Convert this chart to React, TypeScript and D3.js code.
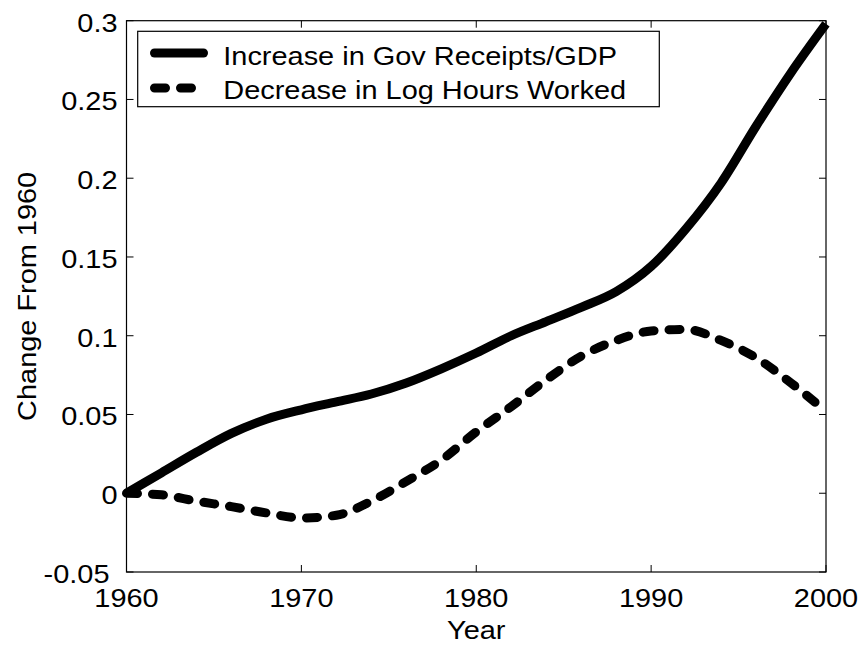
import React from "react";
import * as d3 from "d3";

const years = [1960, 1962, 1964, 1966, 1968, 1970, 1972, 1974, 1976, 1978, 1980, 1982, 1984, 1986, 1988, 1990, 1992, 1994, 1996, 1998, 2000];
const govReceipts = [0, 0.013, 0.026, 0.038, 0.047, 0.053, 0.058, 0.063, 0.07, 0.079, 0.089, 0.1, 0.109, 0.118, 0.128, 0.144, 0.168, 0.197, 0.233, 0.267, 0.298];
const logHours = [0, -0.001, -0.005, -0.0085, -0.0125, -0.0157, -0.014, -0.005, 0.0075, 0.021, 0.039, 0.055, 0.072, 0.087, 0.097, 0.103, 0.104, 0.097, 0.086, 0.07, 0.052];
const xTicks = [1960, 1970, 1980, 1990, 2000];
const yTicks = [-0.05, 0, 0.05, 0.1, 0.15, 0.2, 0.25, 0.3];
const seriesNames = ["Increase in Gov Receipts/GDP", "Decrease in Log Hours Worked"];

const SX = 1.1;

function T({ x, y, anchor = "start", fs, children }: { x: number; y: number; anchor?: string; fs: number; children: React.ReactNode }) {
  return (
    <text transform={`translate(${x},${y}) scale(${SX},1)`} textAnchor={anchor} fontSize={fs}>
      {children}
    </text>
  );
}

export default function App() {
  const W = 865, H = 647;
  const left = 126.5, right = 826, top = 20.7, bottom = 572;
  const x = d3.scaleLinear().domain([1960, 2000]).range([left, right]);
  const y = d3.scaleLinear().domain([-0.05, 0.3]).range([bottom, top]);
  const line = d3.line<number>()
    .x((_, i) => x(years[i]))
    .y((d) => y(d))
    .curve(d3.curveMonotoneX);
  const font = "Liberation Sans, Arial, Helvetica, sans-serif";
  const fs = 26.3;
  const tl = 7;
  const fmt = (v: number) => (Math.abs(v) < 1e-9 ? "0" : String(+v.toFixed(2)));
  return (
    <svg width={W} height={H} style={{ position: "absolute", left: 0, top: 0, background: "#fff" }} fontFamily={font}>
      <rect x={0} y={0} width={W} height={H} fill="#fff" />
      {xTicks.map((t) => (
        <g key={"xt" + t}>
          <line x1={x(t)} x2={x(t)} y1={bottom} y2={bottom - tl} stroke="#000" strokeWidth={1} />
          <line x1={x(t)} x2={x(t)} y1={top} y2={top + tl} stroke="#000" strokeWidth={1} />
          <T x={x(t)} y={bottom + 35} anchor="middle" fs={fs}>{t}</T>
        </g>
      ))}
      {yTicks.map((t) => (
        <g key={"yt" + t}>
          <line x1={left} x2={left + tl} y1={y(t)} y2={y(t)} stroke="#000" strokeWidth={1} />
          <line x1={right} x2={right - tl} y1={y(t)} y2={y(t)} stroke="#000" strokeWidth={1} />
          <T x={t < 0 ? 109.5 : 117.5} y={y(t) + 11} anchor="end" fs={fs}>{fmt(t)}</T>
        </g>
      ))}
      <rect x={left} y={top} width={right - left} height={bottom - top} fill="none" stroke="#000" strokeWidth={1.2} />
      <path d={line(govReceipts) || ""} fill="none" stroke="#000" strokeWidth={9} strokeLinecap="butt" strokeLinejoin="round" />
      <path d={line(logHours) || ""} fill="none" stroke="#000" strokeWidth={9} strokeDasharray="11 15" strokeLinecap="round" strokeLinejoin="round" />
      <rect x={137.7} y={31.3} width={659.3 - 137.7} height={106.7 - 31.3} fill="#fff" stroke="#000" strokeWidth={1.2} />
      <line x1={154.5} x2={203.5} y1={53} y2={53} stroke="#000" strokeWidth={9} strokeLinecap="round" />
      <line x1={154.5} x2={203.5} y1={88} y2={88} stroke="#000" strokeWidth={9} strokeLinecap="round" strokeDasharray="11 15" />
      <T x={223.3} y={65} fs={fs}>{seriesNames[0]}</T>
      <T x={223.3} y={99} fs={fs}>{seriesNames[1]}</T>
      <T x={(left + right) / 2} y={639} anchor="middle" fs={fs}>Year</T>
      <text transform={`translate(36, ${(top + bottom) / 2}) rotate(-90) scale(${SX},1)`} textAnchor="middle" fontSize={fs}>Change From 1960</text>
    </svg>
  );
}
